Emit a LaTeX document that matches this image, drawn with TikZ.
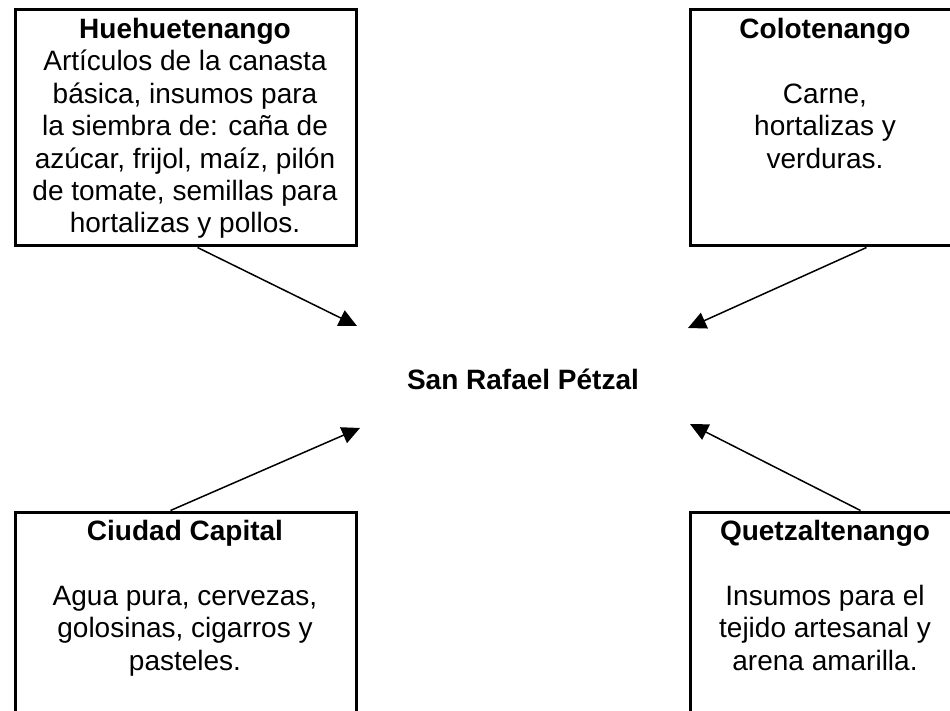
\documentclass[tikz,border=0pt]{standalone}
\usepackage{fontspec}
\setmainfont{Liberation Sans}
\usetikzlibrary{arrows.meta,calc}
\tikzset{
  frame/.style={draw=black, line width=3pt, inner sep=0pt},
  txt/.style={anchor=base, inner sep=0pt, font=\fontsize{28}{32.4}\selectfont},
  ttl/.style={anchor=base, inner sep=0pt, font=\fontsize{28}{32.4}\selectfont\bfseries},
  arr/.style={line width=1.5pt, -{Triangle[length=18pt,width=17pt]}}
}
\begin{document}
\begin{tikzpicture}[x=1pt,y=-1pt]
\useasboundingbox (0,0) rectangle (950,711);
% boxes
\node[frame, minimum width=341pt, minimum height=236pt] (hue) at (185.5,128) {};
\node[frame, minimum width=272pt, minimum height=236pt] (col) at (826,128) {};
\node[frame, minimum width=341pt, minimum height=208pt] (cap) at (185.5,616) {};
\node[frame, minimum width=272pt, minimum height=208pt] (que) at (826,616) {};
% texts
\node[txt] (huet) at (185,38.5) {\begin{tabular}[t]{@{}c@{}}\textbf{Huehuetenango}\\Artículos de la canasta\\básica, insumos para\\la siembra de: caña de\\azúcar, frijol, maíz, pilón\\de tomate, semillas para\\hortalizas y pollos.\end{tabular}};
\node[txt] (colt) at (825,38.5) {\begin{tabular}[t]{@{}c@{}}\textbf{Colotenango}\\ \\Carne,\\hortalizas y\\verduras.\end{tabular}};
\node[txt] (capt) at (185,540.5) {\begin{tabular}[t]{@{}c@{}}\textbf{Ciudad Capital}\\ \\Agua pura, cervezas,\\golosinas, cigarros y\\pasteles.\end{tabular}};
\node[txt] (quet) at (825,540.5) {\begin{tabular}[t]{@{}c@{}}\textbf{Quetzaltenango}\\ \\Insumos para el\\tejido artesanal y\\arena amarilla.\end{tabular}};
\node[ttl] (spz) at (523,389) {San Rafael Pétzal};
% connector ends
\coordinate (s1) at ($(hue.south west)+(184,0)$);
\coordinate (s2) at ($(col.south west)+(178,0)$);
\coordinate (s3) at ($(cap.north west)+(157,0)$);
\coordinate (s4) at ($(que.north west)+(172,0)$);
\coordinate (t1) at (357,326);
\coordinate (t2) at (688,328);
\coordinate (t3) at (360,428);
\coordinate (t4) at (690,424);
\draw[arr] (s1) -- (t1);
\draw[arr] (s2) -- (t2);
\draw[arr] (s3) -- (t3);
\draw[arr] (s4) -- (t4);
\end{tikzpicture}
\end{document}
